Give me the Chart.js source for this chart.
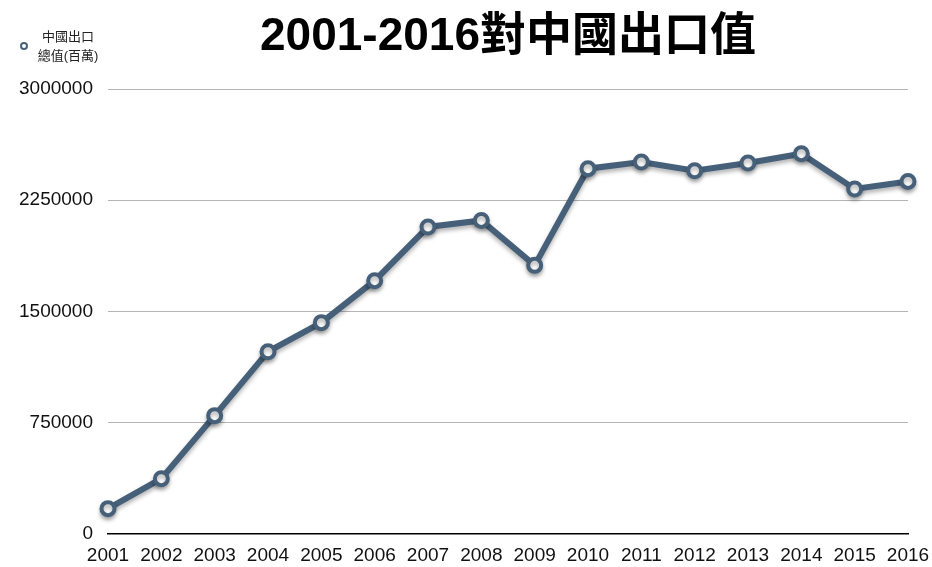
<!DOCTYPE html>
<html>
<head>
<meta charset="utf-8">
<script src="https://cdn.jsdelivr.net/npm/chart.js@4/dist/chart.umd.min.js"></script>
<style>
  body { margin: 0; background: #ffffff; }
  #Export_Graph { display: block; }
</style>
</head>
<body>
<canvas id="Export_Graph" width="932" height="567"></canvas>
<script>
// data
var years = ['2001', '2002', '2003', '2004', '2005', '2006', '2007', '2008',
             '2009', '2010', '2011', '2012', '2013', '2014', '2015', '2016'];
var exportValues = [171000, 373000, 798000, 1229000, 1425000, 1708000, 2070000, 2114000,
                    1811000, 2463000, 2508000, 2449000, 2501000, 2564000, 2326000, 2377000];
var yTicks = [0, 750000, 1500000, 2250000, 3000000];
var chartTitle = '2001-2016對中國出口值';
var legendLines = ['中國出口', '總值(百萬)'];

var lineColor = '#46607a';
var fontFamily = '"Liberation Sans", "Noto Sans CJK TC", sans-serif';

// title centred over the plot + small legend in the corner
var headerPlugin = {
    id: 'header',
    afterDraw: function (chart) {
        var c = chart.ctx;
        var area = chart.chartArea;
        c.save();
        c.fillStyle = '#000000';
        c.font = 'bold 46px ' + fontFamily;
        c.textAlign = 'center';
        c.textBaseline = 'alphabetic';
        c.fillText(chartTitle, (area.left + area.right) / 2, 50);

        c.beginPath();
        c.arc(24, 46, 3, 0, Math.PI * 2);
        c.fillStyle = '#ffffff';
        c.fill();
        c.lineWidth = 2;
        c.strokeStyle = lineColor;
        c.stroke();

        c.fillStyle = '#222222';
        c.font = '13px ' + fontFamily;
        c.textBaseline = 'middle';
        c.fillText(legendLines[0], 68, 37);
        c.fillText(legendLines[1], 68, 56);
        c.restore();
    }
};

// soft shadow under the line
var shadowPlugin = {
    id: 'lineShadow',
    beforeDatasetDraw: function (chart) {
        var c = chart.ctx;
        c.save();
        c.shadowColor = 'rgba(0, 0, 0, 0.3)';
        c.shadowBlur = 4;
        c.shadowOffsetY = 3;
    },
    afterDatasetDraw: function (chart) {
        chart.ctx.restore();
    }
};

var ctx = document.getElementById('Export_Graph').getContext('2d');

var data = {
    labels: years,
    datasets: [{
        label: legendLines.join(''),
        data: exportValues,
        borderColor: lineColor,
        borderWidth: 6,
        backgroundColor: lineColor,
        pointRadius: 6.5,
        pointHoverRadius: 6.5,
        pointBorderWidth: 4,
        pointBackgroundColor: '#ffffff',
        pointBorderColor: lineColor,
        tension: 0
    }]
};

var options = {
    responsive: false,
    animation: false,
    layout: {
        padding: { top: 89, right: 24, bottom: 0, left: 0 }
    },
    plugins: {
        legend: { display: false },
        title: { display: false },
        tooltip: { enabled: false }
    },
    scales: {
        x: {
            offset: false,
            grid: { display: false, drawTicks: false },
            border: { display: true, color: '#000000', width: 1.5 },
            ticks: {
                color: '#111111',
                font: { family: fontFamily, size: 19 },
                padding: 10,
                maxRotation: 0,
                autoSkip: false
            },
            afterFit: function (scale) {
                scale.height = 33;
                scale.paddingLeft = 0;
                scale.paddingRight = 0;
            }
        },
        y: {
            min: 0,
            max: 3000000,
            grid: {
                drawTicks: false,
                color: function (context) {
                    return context.tick && context.tick.value === 0 ? 'rgba(0,0,0,0)' : '#b5b5b5';
                },
                lineWidth: 1
            },
            border: { display: false },
            ticks: {
                color: '#111111',
                font: { family: fontFamily, size: 19 },
                padding: 15,
                callback: function (value) { return String(value); }
            },
            afterBuildTicks: function (scale) {
                scale.ticks = yTicks.map(function (v) { return { value: v }; });
            },
            afterFit: function (scale) {
                scale.width = 108;
                scale.paddingTop = 0;
                scale.paddingBottom = 0;
            }
        }
    }
};

var graph = new Chart(ctx, {
    type: 'line',
    data: data,
    options: options,
    plugins: [headerPlugin, shadowPlugin]
});
</script>
</body>
</html>
